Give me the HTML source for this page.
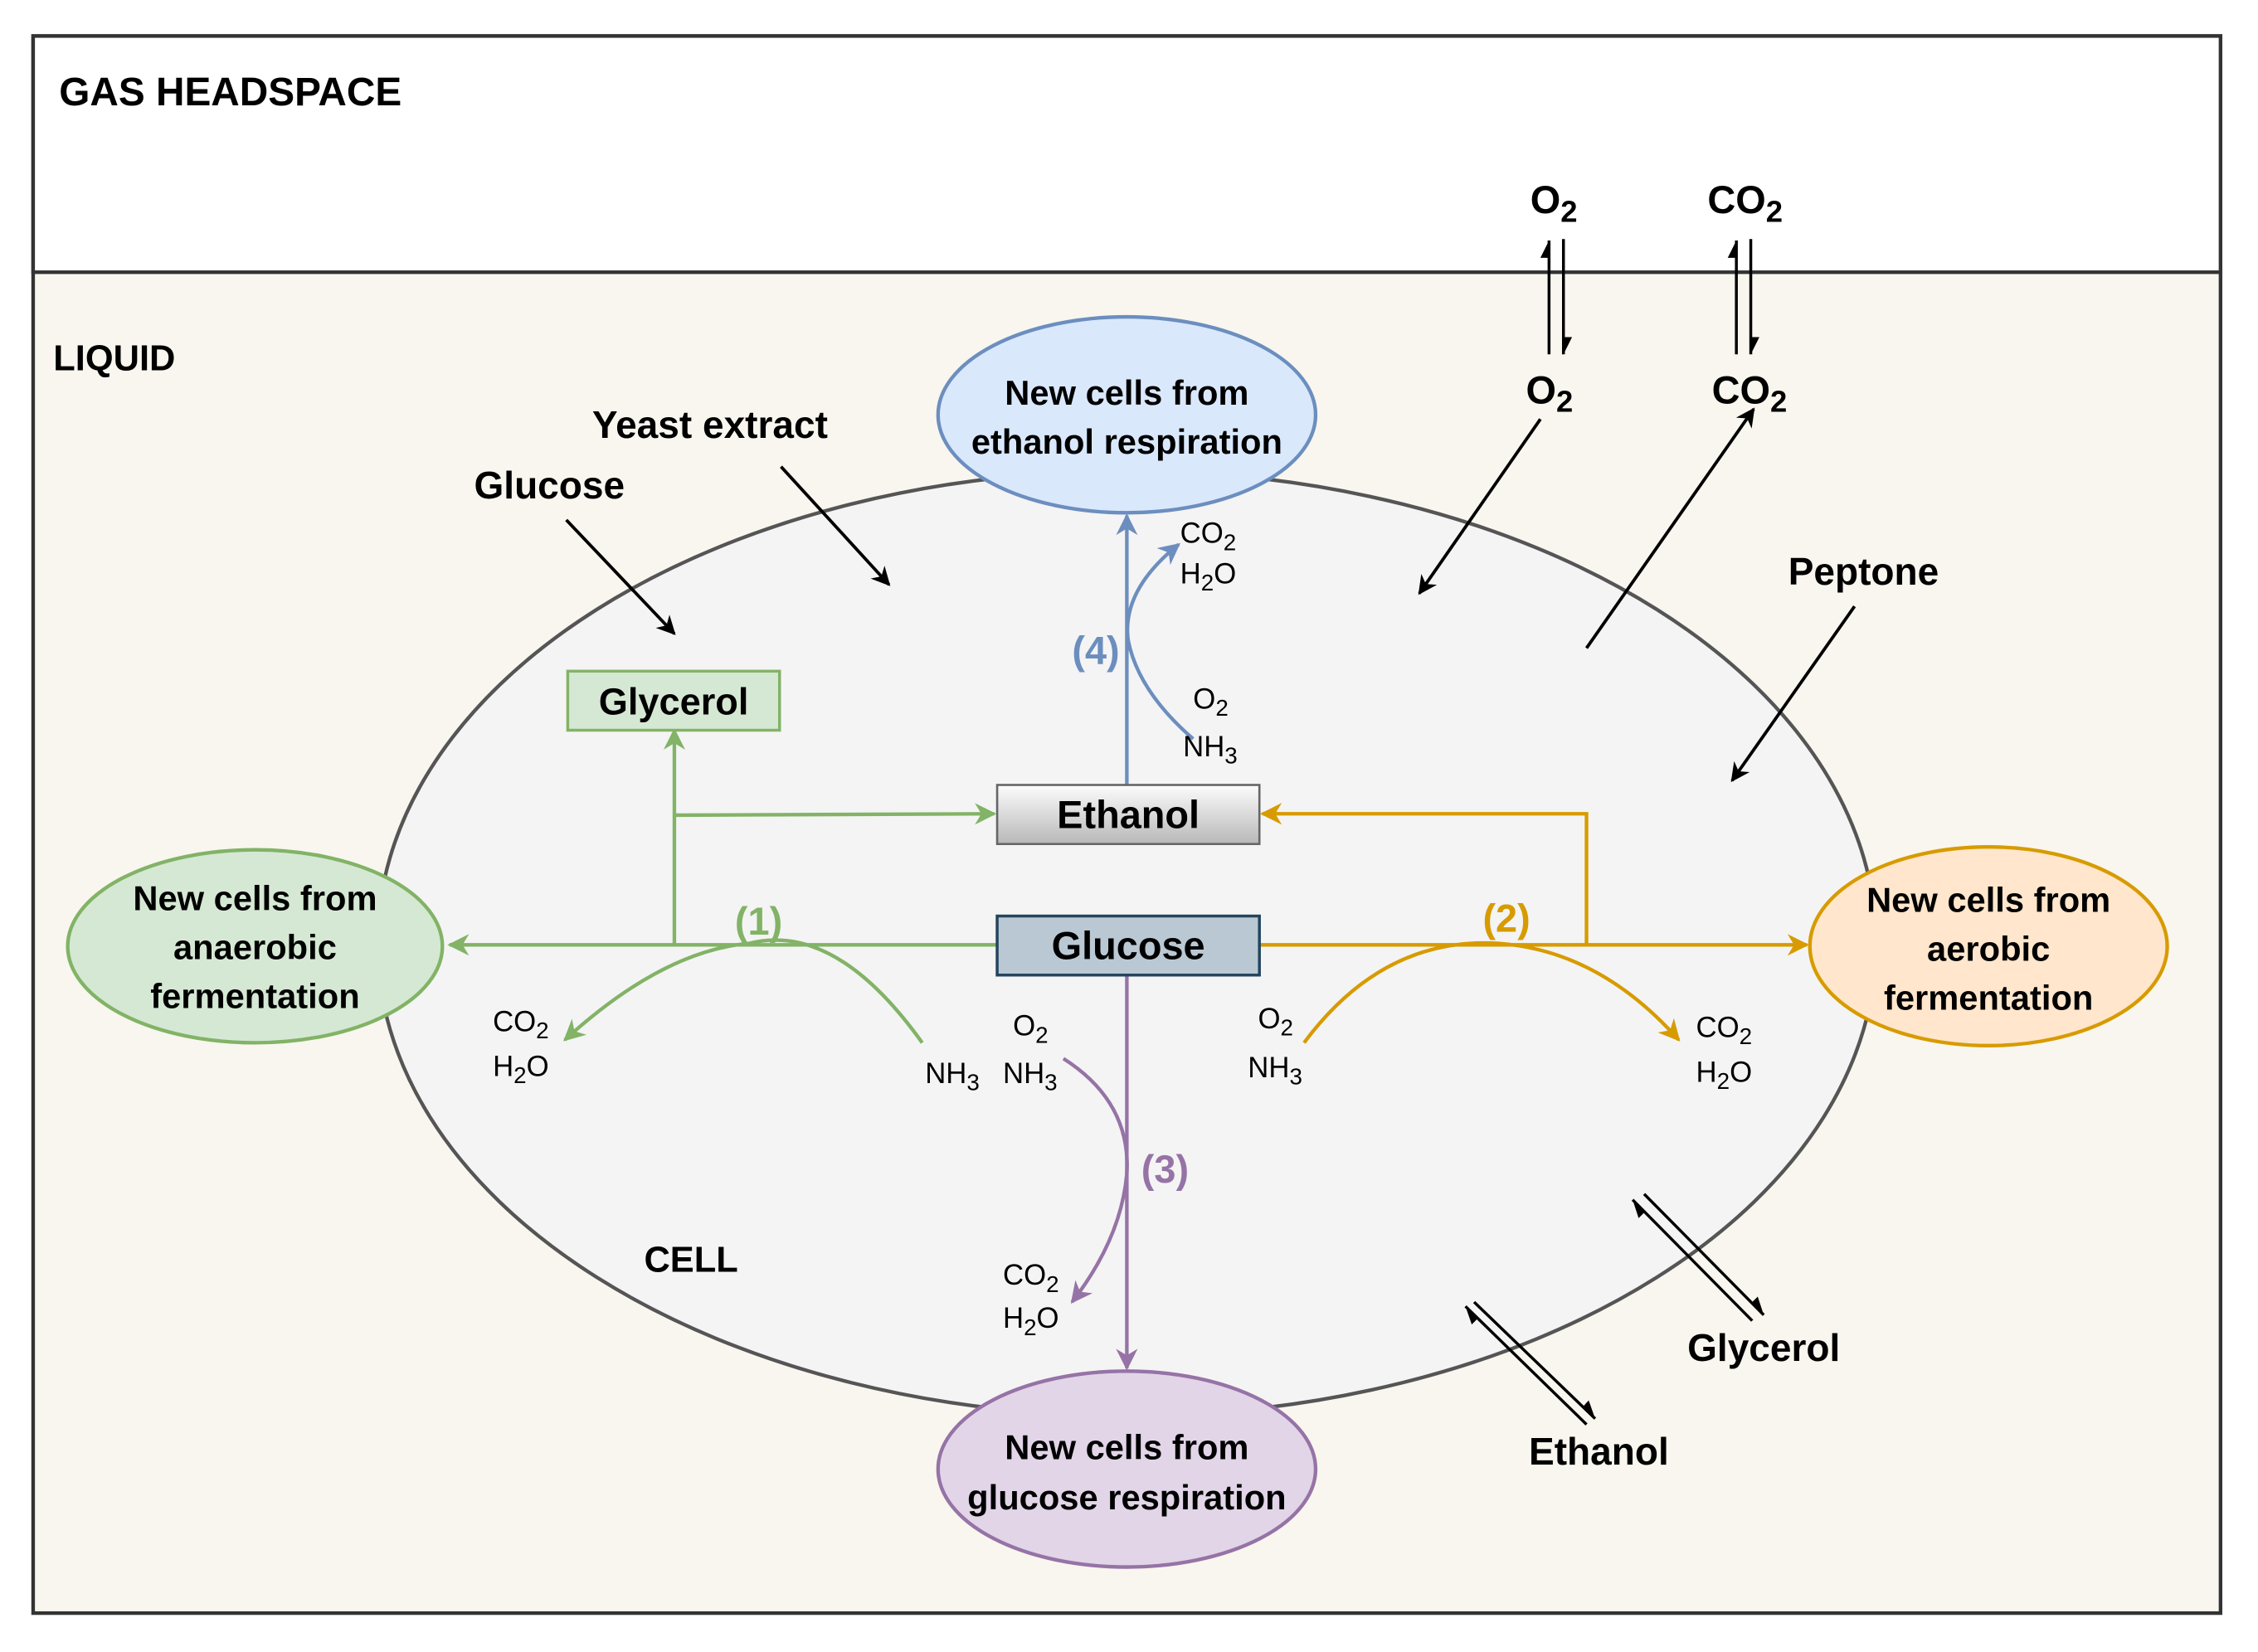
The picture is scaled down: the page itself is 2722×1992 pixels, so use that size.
<!DOCTYPE html>
<html><head><meta charset="utf-8"><style>
html,body{margin:0;padding:0;background:#fff}
svg{display:block}
text{font-family:"Liberation Sans",Arial,sans-serif;fill:#000}
.b{font-weight:bold}
</style></head><body>
<svg width="2722" height="1992" viewBox="0 0 1567 1147" preserveAspectRatio="none" xmlns="http://www.w3.org/2000/svg">
<defs>
<marker id="ak" viewBox="0 0 10 10" refX="9" refY="5" markerWidth="6" markerHeight="6" orient="auto"><path d="M0,0 L10,5 L0,10 L3,5z" fill="#000"/></marker>
<marker id="ag" viewBox="0 0 10 10" refX="9" refY="5" markerWidth="6" markerHeight="6" orient="auto"><path d="M0,0 L10,5 L0,10 L3,5z" fill="#82b366"/></marker>
<marker id="ao" viewBox="0 0 10 10" refX="9" refY="5" markerWidth="6" markerHeight="6" orient="auto"><path d="M0,0 L10,5 L0,10 L3,5z" fill="#d79b00"/></marker>
<marker id="ab" viewBox="0 0 10 10" refX="9" refY="5" markerWidth="6" markerHeight="6" orient="auto"><path d="M0,0 L10,5 L0,10 L3,5z" fill="#6c8ebf"/></marker>
<marker id="ap" viewBox="0 0 10 10" refX="9" refY="5" markerWidth="6" markerHeight="6" orient="auto"><path d="M0,0 L10,5 L0,10 L3,5z" fill="#9673a6"/></marker>
<marker id="h" viewBox="0 0 10 6" refX="10" refY="5" markerWidth="6" markerHeight="4" orient="auto" markerUnits="strokeWidth"><path d="M0,0 L10,5 L0,5z" fill="#000"/></marker>
<linearGradient id="eg" x1="0" y1="0" x2="0" y2="1"><stop offset="0" stop-color="#fcfcfc"/><stop offset="1" stop-color="#b8b8b8"/></linearGradient>
</defs>
<rect x="23" y="25" width="1518" height="1095" fill="#f8f6ee" stroke="#333" stroke-width="2.5"/>
<rect x="23" y="25" width="1518" height="164" fill="#fff" stroke="#333" stroke-width="2.5"/>
<text x="41" y="73" font-size="27.5" class="b">GAS HEADSPACE</text>
<text x="37" y="257" font-size="25" class="b">LIQUID</text>
<ellipse cx="782" cy="655" rx="520" ry="328" fill="#f4f4f4" stroke="#555" stroke-width="2.5"/>
<text x="447" y="883" font-size="25" class="b">CELL</text>

<text x="1062" y="148" font-size="27" class="b">O<tspan font-size="21" dy="6">2</tspan></text>
<text x="1059" y="280" font-size="27" class="b">O<tspan font-size="21" dy="6">2</tspan></text>
<text x="1185" y="148" font-size="27" class="b">CO<tspan font-size="21" dy="6">2</tspan></text>
<text x="1188" y="280" font-size="27" class="b">CO<tspan font-size="21" dy="6">2</tspan></text>
<line x1="1075" y1="246" x2="1075" y2="167" stroke="#000" stroke-width="2" marker-end="url(#h)"/>
<line x1="1085" y1="166" x2="1085" y2="246" stroke="#000" stroke-width="2" marker-end="url(#h)"/>
<line x1="1205" y1="246" x2="1205" y2="167" stroke="#000" stroke-width="2" marker-end="url(#h)"/>
<line x1="1215" y1="166" x2="1215" y2="246" stroke="#000" stroke-width="2" marker-end="url(#h)"/>

<text x="329" y="346" font-size="26.5" class="b">Glucose</text>
<text x="411" y="304" font-size="26.5" class="b">Yeast  extract</text>
<text x="1241" y="406" font-size="26.5" class="b">Peptone</text>
<line x1="393" y1="361" x2="468" y2="440" stroke="#000" stroke-width="2.2" marker-end="url(#ak)"/>
<line x1="542" y1="324" x2="617" y2="406" stroke="#000" stroke-width="2.2" marker-end="url(#ak)"/>
<line x1="1069" y1="291" x2="985" y2="412" stroke="#000" stroke-width="2.2" marker-end="url(#ak)"/>
<line x1="1101" y1="450" x2="1217" y2="284" stroke="#000" stroke-width="2.2" marker-end="url(#ak)"/>
<line x1="1287" y1="421" x2="1202" y2="542" stroke="#000" stroke-width="2.2" marker-end="url(#ak)"/>

<line x1="1216" y1="917" x2="1133" y2="833" stroke="#000" stroke-width="2" marker-end="url(#h)"/>
<line x1="1141" y1="829" x2="1224" y2="913" stroke="#000" stroke-width="2" marker-end="url(#h)"/>
<line x1="1101" y1="989" x2="1017" y2="907" stroke="#000" stroke-width="2" marker-end="url(#h)"/>
<line x1="1023" y1="904" x2="1107" y2="985" stroke="#000" stroke-width="2" marker-end="url(#h)"/>
<text x="1171" y="945" font-size="26.5" class="b">Glycerol</text>
<text x="1061" y="1017" font-size="26.5" class="b">Ethanol</text>

<line x1="692" y1="656" x2="312" y2="656" stroke="#82b366" stroke-width="2.5" marker-end="url(#ag)"/>
<line x1="468" y1="656" x2="468" y2="507" stroke="#82b366" stroke-width="2.5" marker-end="url(#ag)"/>
<line x1="468" y1="566" x2="690" y2="565" stroke="#82b366" stroke-width="2.5" marker-end="url(#ag)"/>
<path d="M640,724 Q580,640 520,655 Q460,660 392,722" fill="none" stroke="#82b366" stroke-width="2.5" marker-end="url(#ag)"/>
<text x="510" y="649" font-size="27" class="b" style="fill:#82b366">(1)</text>

<line x1="875" y1="656" x2="1254" y2="656" stroke="#d79b00" stroke-width="2.5" marker-end="url(#ao)"/>
<polyline points="1101,656 1101,565 876,565" fill="none" stroke="#d79b00" stroke-width="2.5" marker-end="url(#ao)"/>
<path d="M905,724 Q960,650 1040,655 Q1110,660 1165,722" fill="none" stroke="#d79b00" stroke-width="2.5" marker-end="url(#ao)"/>
<text x="1029" y="647" font-size="27" class="b" style="fill:#d79b00">(2)</text>

<line x1="782" y1="677" x2="782" y2="950" stroke="#9673a6" stroke-width="2.5" marker-end="url(#ap)"/>
<path d="M738,735 Q785,765 782,815 Q778,860 744,904" fill="none" stroke="#9673a6" stroke-width="2.5" marker-end="url(#ap)"/>
<text x="792" y="821" font-size="27" class="b" style="fill:#9673a6">(3)</text>

<line x1="782" y1="545" x2="782" y2="358" stroke="#6c8ebf" stroke-width="2.5" marker-end="url(#ab)"/>
<path d="M828,513 Q790,480 783,445 Q778,410 818,378" fill="none" stroke="#6c8ebf" stroke-width="2.5" marker-end="url(#ab)"/>
<text x="744" y="461" font-size="27" class="b" style="fill:#6c8ebf">(4)</text>

<rect x="394" y="466" width="147" height="41" fill="#d5e8d4" stroke="#82b366" stroke-width="2"/>
<text x="467.5" y="496" font-size="26" class="b" text-anchor="middle">Glycerol</text>
<rect x="692" y="545" width="182" height="41" fill="url(#eg)" stroke="#666" stroke-width="1.5"/>
<text x="783" y="575" font-size="27" class="b" text-anchor="middle">Ethanol</text>
<rect x="692" y="636" width="182" height="41" fill="#bac8d3" stroke="#23445d" stroke-width="2"/>
<text x="783" y="666" font-size="27" class="b" text-anchor="middle">Glucose</text>

<g font-size="24" class="b" text-anchor="middle">
<ellipse cx="782" cy="288" rx="131" ry="68" fill="#dae8fc" stroke="#6c8ebf" stroke-width="2.5"/>
<text x="782" y="281">New cells from</text><text x="782" y="315">ethanol respiration</text>
<ellipse cx="177" cy="657" rx="130" ry="67" fill="#d5e8d4" stroke="#82b366" stroke-width="2.5"/>
<text x="177" y="632">New cells from</text><text x="177" y="666">anaerobic</text><text x="177" y="700">fermentation</text>
<ellipse cx="1380" cy="657" rx="124" ry="69" fill="#ffe6cc" stroke="#d79b00" stroke-width="2.5"/>
<text x="1380" y="633">New cells from</text><text x="1380" y="667">aerobic</text><text x="1380" y="701">fermentation</text>
<ellipse cx="782" cy="1020" rx="131" ry="68" fill="#e1d5e7" stroke="#9673a6" stroke-width="2.5"/>
<text x="782" y="1013">New cells from</text><text x="782" y="1048">glucose respiration</text>
</g>

<g font-size="20">
<text x="819" y="377">CO<tspan font-size="16" dy="5">2</tspan></text>
<text x="819" y="405">H<tspan font-size="16" dy="5">2</tspan><tspan dy="-5">O</tspan></text>
<text x="828" y="492">O<tspan font-size="16" dy="5">2</tspan></text>
<text x="821" y="525">NH<tspan font-size="16" dy="5">3</tspan></text>
<text x="342" y="716">CO<tspan font-size="16" dy="5">2</tspan></text>
<text x="342" y="747">H<tspan font-size="16" dy="5">2</tspan><tspan dy="-5">O</tspan></text>
<text x="642" y="752">NH<tspan font-size="16" dy="5">3</tspan></text>
<text x="703" y="719">O<tspan font-size="16" dy="5">2</tspan></text>
<text x="696" y="752">NH<tspan font-size="16" dy="5">3</tspan></text>
<text x="873" y="714">O<tspan font-size="16" dy="5">2</tspan></text>
<text x="866" y="748">NH<tspan font-size="16" dy="5">3</tspan></text>
<text x="1177" y="720">CO<tspan font-size="16" dy="5">2</tspan></text>
<text x="1177" y="751">H<tspan font-size="16" dy="5">2</tspan><tspan dy="-5">O</tspan></text>
<text x="696" y="892">CO<tspan font-size="16" dy="5">2</tspan></text>
<text x="696" y="922">H<tspan font-size="16" dy="5">2</tspan><tspan dy="-5">O</tspan></text>
</g>
</svg>
</body></html>
